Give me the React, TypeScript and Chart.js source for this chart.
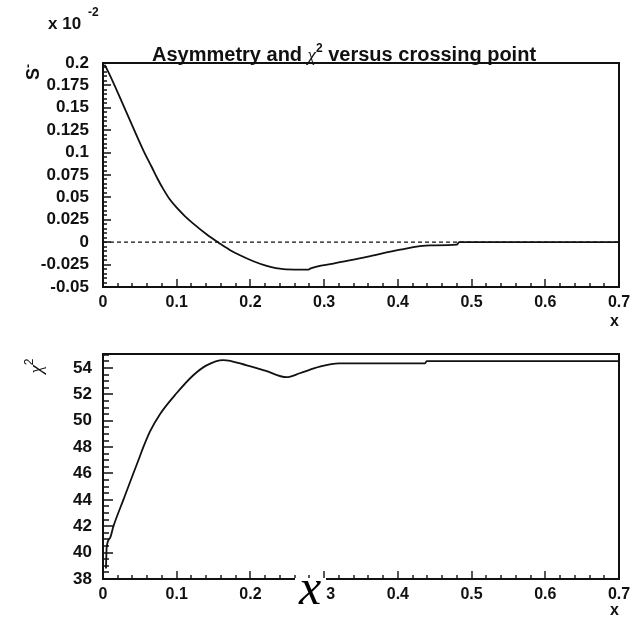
import React, { useEffect, useRef } from 'react';
import { Chart, registerables } from 'chart.js';

Chart.register(...registerables);

const FONT = '"Liberation Sans", Arial, Helvetica, sans-serif';
const SERIF = '"Liberation Serif", "Times New Roman", serif';

// ---- Data: top panel, asymmetry S- (in units of 10^-2) versus crossing point x
const sX = [0.002, 0.005, 0.03, 0.0547, 0.0661, 0.074, 0.0818, 0.09, 0.1, 0.111, 0.1225, 0.14, 0.1588, 0.172, 0.1859, 0.204, 0.2221, 0.2446, 0.2673, 0.279, 0.281, 0.3125, 0.3578, 0.403, 0.4437, 0.48, 0.483, 0.7];
const sY = [0.198, 0.1938, 0.1483, 0.1026, 0.0839, 0.0708, 0.0592, 0.0485, 0.0385, 0.0292, 0.0208, 0.0092, -0.0016, -0.0086, -0.0146, -0.0213, -0.0265, -0.0301, -0.0306, -0.0306, -0.0295, -0.0239, -0.0165, -0.0083, -0.0035, -0.0027, 0, 0];
const zeroX = [0, 0.7];
const zeroY = [0, 0];

// ---- Data: bottom panel, chi^2 versus crossing point x
const chiX = [0.004, 0.005, 0.0095, 0.014, 0.0276, 0.0411, 0.048, 0.0547, 0.0638, 0.0773, 0.1, 0.1225, 0.1405, 0.163, 0.195, 0.22, 0.249, 0.267, 0.294, 0.32, 0.437, 0.439, 0.7];
const chiY = [38.8, 40.4, 41.1, 41.97, 44.0, 46.0, 47.0, 48.0, 49.2, 50.5, 52.1, 53.45, 54.2, 54.6, 54.2, 53.8, 53.3, 53.6, 54.1, 54.35, 54.35, 54.52, 54.52];

// ---- Axis ranges / tick steps
const X_MIN = 0, X_MAX = 0.7, X_STEP = 0.1;
const S_MIN = -0.05, S_MAX = 0.2, S_STEP = 0.025;
const CHI_MIN = 38, CHI_MAX = 55.06, CHI_STEP = 2;

// ---- Texts
const TITLE_A = 'Asymmetry and ';
const TITLE_CHI = 'χ';
const TITLE_SUP = '2';
const TITLE_B = ' versus crossing point';
const X_TITLE = 'x';
const S_TITLE = 'S';
const S_SUP = '-';
const EXP_BASE = 'x 10';
const EXP_POW = '-2';
const CHI_TITLE = 'χ';
const CHI_SUP = '2';
const OVERLAY_X = 'x';

type Seg = { t: string; f: string; dy?: number };
function drawSegs(ctx: CanvasRenderingContext2D, x: number, y: number, segs: Seg[], center = false) {
  let total = 0;
  for (const s of segs) { ctx.font = s.f; total += ctx.measureText(s.t).width; }
  let cx = center ? x - total / 2 : x;
  ctx.textAlign = 'left';
  ctx.textBaseline = 'alphabetic';
  for (const s of segs) {
    ctx.font = s.f;
    ctx.fillText(s.t, cx, y + (s.dy || 0));
    cx += ctx.measureText(s.t).width;
  }
}

type TickCfg = {
  xMinor: number; xPer: number; xMaj: number; xMin: number;
  yStart: number; yEnd: number; yMinor: number; yPer: number; yMaj: number; yMin: number;
};

function drawFrameTicks(chart: any, c: TickCfg) {
  const { ctx, chartArea: a } = chart;
  const xs = chart.scales.x, ys = chart.scales.y;
  ctx.save();
  ctx.strokeStyle = '#111';
  ctx.lineWidth = 1.4;
  ctx.beginPath();
  const nx = Math.round((X_MAX - X_MIN) / c.xMinor);
  for (let i = 0; i <= nx; i++) {
    const px = Math.round(xs.getPixelForValue(X_MIN + i * c.xMinor));
    const len = i % c.xPer === 0 ? c.xMaj : c.xMin;
    ctx.moveTo(px, a.bottom);
    ctx.lineTo(px, a.bottom - len);
  }
  const ny = Math.round((c.yEnd - c.yStart) / c.yMinor);
  for (let i = 0; i <= ny; i++) {
    const py = Math.round(ys.getPixelForValue(c.yStart + i * c.yMinor));
    const len = i % c.yPer === 0 ? c.yMaj : c.yMin;
    ctx.moveTo(a.left, py);
    ctx.lineTo(a.left + len, py);
  }
  ctx.stroke();
  ctx.lineWidth = 2;
  ctx.strokeRect(a.left, a.top, a.right - a.left, a.bottom - a.top);
  ctx.restore();
}

const xTickFont = { family: FONT, size: 16, weight: 'bold' as const, lineHeight: 1 };
const yTickFont = { family: FONT, size: 17, weight: 'bold' as const, lineHeight: 1 };

function xScale(height: number) {
  return {
    type: 'linear' as const,
    min: X_MIN,
    max: X_MAX,
    grid: { display: false, drawTicks: false },
    border: { display: false },
    ticks: { stepSize: X_STEP, padding: 8, color: '#111', font: xTickFont, includeBounds: false, maxRotation: 0, autoSkip: false },
    title: { display: true, text: X_TITLE, align: 'end' as const, color: '#111', padding: 0, font: { family: FONT, size: 16, weight: 'bold' as const, lineHeight: 1 } },
    afterFit: (s: any) => { s.height = height; },
  };
}

export default function App() {
  const topRef = useRef<HTMLCanvasElement>(null);
  const botRef = useRef<HTMLCanvasElement>(null);

  useEffect(() => {
    const topDecor = {
      id: 'topDecor',
      afterDraw(chart: any) {
        drawFrameTicks(chart, { xMinor: 0.02, xPer: 5, xMaj: 8, xMin: 4, yStart: S_MIN, yEnd: S_MAX, yMinor: 0.005, yPer: 5, yMaj: 8, yMin: 4 });
        const ctx = chart.ctx as CanvasRenderingContext2D;
        ctx.save();
        ctx.fillStyle = '#111';
        drawSegs(ctx, 152, 61, [
          { t: TITLE_A, f: `bold 20px ${FONT}` },
          { t: TITLE_CHI, f: `italic 19px ${SERIF}` },
          { t: TITLE_SUP, f: `bold 12px ${FONT}`, dy: -9 },
          { t: TITLE_B, f: `bold 20px ${FONT}` },
        ]);
        drawSegs(ctx, 48, 29, [{ t: EXP_BASE, f: `bold 17px ${FONT}` }]);
        drawSegs(ctx, 88, 16, [{ t: EXP_POW, f: `bold 12px ${FONT}` }]);
        ctx.translate(39, 72);
        ctx.rotate(-Math.PI / 2);
        drawSegs(ctx, 0, 0, [
          { t: S_TITLE, f: `bold 18px ${FONT}` },
          { t: S_SUP, f: `bold 12px ${FONT}`, dy: -7 },
        ], true);
        ctx.restore();
      },
    };
    const botDecor = {
      id: 'botDecor',
      afterDraw(chart: any) {
        drawFrameTicks(chart, { xMinor: 0.02, xPer: 5, xMaj: 8, xMin: 4, yStart: CHI_MIN, yEnd: 55, yMinor: 0.5, yPer: 4, yMaj: 10, yMin: 6 });
        const ctx = chart.ctx as CanvasRenderingContext2D;
        ctx.save();
        ctx.fillStyle = '#111';
        ctx.translate(42, 36);
        ctx.rotate(-Math.PI / 2);
        drawSegs(ctx, 0, 0, [
          { t: CHI_TITLE, f: `italic 19px ${SERIF}` },
          { t: CHI_SUP, f: `12px ${FONT}`, dy: -9 },
        ], true);
        ctx.restore();
        // overlaid large math-italic x, pasted over the axis with a white box
        ctx.save();
        ctx.fillStyle = '#fff';
        ctx.fillRect(295, 248, 31, 36);
        ctx.fillStyle = '#000';
        ctx.font = `italic 50px ${SERIF}`;
        ctx.textAlign = 'center';
        ctx.textBaseline = 'alphabetic';
        ctx.fillText(OVERLAY_X, 310, 274);
        ctx.restore();
      },
    };

    const lineStyle = { borderColor: '#111', borderWidth: 1.8, pointRadius: 0, cubicInterpolationMode: 'monotone' as const };

    const top = new Chart(topRef.current!, {
      type: 'line',
      data: {
        datasets: [
          { data: sX.map((x, i) => ({ x, y: sY[i] })), ...lineStyle },
          { data: zeroX.map((x, i) => ({ x, y: zeroY[i] })), borderColor: '#111', borderWidth: 1.2, borderDash: [4, 3], pointRadius: 0 },
        ],
      },
      options: {
        animation: false,
        responsive: false,
        devicePixelRatio: 1,
        layout: { padding: { left: 0, right: 22, top: 63, bottom: 0 } },
        plugins: { legend: { display: false }, tooltip: { enabled: false }, title: { display: false } },
        scales: {
          x: xScale(43),
          y: {
            type: 'linear',
            min: S_MIN,
            max: S_MAX,
            grid: { display: false, drawTicks: false },
            border: { display: false },
            ticks: { stepSize: S_STEP, padding: 14, color: '#111', font: yTickFont, includeBounds: false, autoSkip: false, callback: (v: any) => String(Math.round(Number(v) * 1000) / 1000) },
            afterFit: (s: any) => { s.width = 103; },
          },
        },
      },
      plugins: [topDecor],
    });

    const bot = new Chart(botRef.current!, {
      type: 'line',
      data: {
        datasets: [
          { data: chiX.map((x, i) => ({ x, y: chiY[i] })), ...lineStyle },
        ],
      },
      options: {
        animation: false,
        responsive: false,
        devicePixelRatio: 1,
        layout: { padding: { left: 0, right: 22, top: 24, bottom: 0 } },
        plugins: { legend: { display: false }, tooltip: { enabled: false }, title: { display: false } },
        scales: {
          x: xScale(40),
          y: {
            type: 'linear',
            min: CHI_MIN,
            max: CHI_MAX,
            grid: { display: false, drawTicks: false },
            border: { display: false },
            ticks: { stepSize: CHI_STEP, padding: 11, color: '#111', font: yTickFont, includeBounds: false, autoSkip: false },
            afterFit: (s: any) => { s.width = 103; },
          },
        },
      },
      plugins: [botDecor],
    });

    return () => { top.destroy(); bot.destroy(); };
  }, []);

  return (
    <div style={{ position: 'absolute', left: 0, top: 0, width: 641, height: 619, background: '#fff' }}>
      <canvas ref={topRef} width={641} height={330} style={{ position: 'absolute', left: 0, top: 0, width: 641, height: 330 }} />
      <canvas ref={botRef} width={641} height={289} style={{ position: 'absolute', left: 0, top: 330, width: 641, height: 289 }} />
    </div>
  );
}
